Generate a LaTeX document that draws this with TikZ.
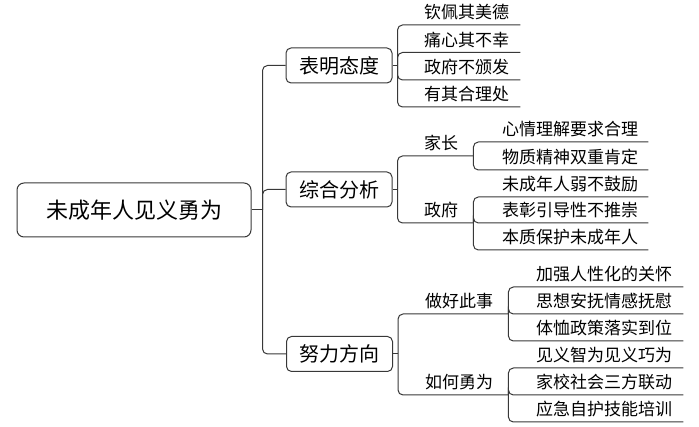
\documentclass[tikz,border=0pt]{standalone}
\usepackage{fontspec}
\setmainfont{Noto Sans CJK SC}

\begin{document}
\begin{tikzpicture}[x=1pt,y=-1pt,
    link/.style={draw=black!78,line width=1pt,rounded corners=5pt},
    rootbox/.style={draw=black!78,line width=1pt,rounded corners=7pt,minimum width=234pt,minimum height=54pt,inner sep=0pt,font=\fontsize{22pt}{22pt}\selectfont},
    topic/.style={draw=black!78,line width=1pt,rounded corners=5pt,minimum width=106pt,minimum height=35pt,inner sep=0pt,font=\fontsize{20pt}{20pt}\selectfont},
    leaf/.style={anchor=south west,inner sep=0pt,text width=#1,align=left,text height=14pt,text depth=6pt,font=\fontsize{17pt}{17pt}\selectfont}]
  \useasboundingbox (0,0) rectangle (699,427);
  \node[rootbox] (root) at (134,210) {未成年人见义勇为};
  \node[topic] (taidu) at (339,65.5) {表明态度};
  \node[topic] (fenxi) at (339,189.5) {综合分析};
  \node[topic] (fangxiang) at (339.5,354) {努力方向};
  \draw[link] (root.east) -- ++(11,0) coordinate (trunk);
  \foreach \t in {taidu,fenxi,fangxiang}
    \draw[link] (trunk) |- (\t.west);

  \draw[link] (taidu.east) -- ++(5,0) coordinate (j-taidu);
  \foreach \y/\txt [count=\i] in {25/钦佩其美德,52.5/痛心其不幸,80/政府不颁发,107/有其合理处}{
    \node[leaf=96pt] (taidu-\i) at (424,\y) {\txt};
    \draw[link] (j-taidu) |- (taidu-\i.south east);
  }

  \draw[link] (fenxi.east) -- ++(5,0) coordinate (j-fenxi);
  \node[leaf=49pt] (jiazhang) at (424,156) {家长};
  \node[leaf=49pt] (zhengfu) at (424,223) {政府};
  \foreach \t in {jiazhang,zhengfu}
    \draw[link] (j-fenxi) |- (\t.south east);
  \foreach \y/\txt [count=\i] in {142/心情理解要求合理,170/物质精神双重肯定}{
    \node[leaf=146pt] (jiazhang-\i) at (502,\y) {\txt};
    \draw[link] (jiazhang.south east) |- (jiazhang-\i.south east);
  }
  \foreach \y/\txt [count=\i] in {197/未成年人弱不鼓励,223/表彰引导性不推崇,250/本质保护未成年人}{
    \node[leaf=146pt] (zhengfu-\i) at (502,\y) {\txt};
    \draw[link] (zhengfu.south east) |- (zhengfu-\i.south east);
  }

  \draw[link] (fangxiang.east) -- ++(5,0) coordinate (j-fangxiang);
  \node[leaf=83pt] (zuohao) at (425,314) {做好此事};
  \node[leaf=83pt] (ruhe) at (425,395) {如何勇为};
  \foreach \t in {zuohao,ruhe}
    \draw[link] (j-fangxiang) |- (\t.south east);
  \foreach \y/\txt [count=\i] in {287/加强人性化的关怀,314/思想安抚情感抚慰,341/体恤政策落实到位}{
    \node[leaf=147pt] (zuohao-\i) at (536,\y) {\txt};
    \draw[link] (zuohao.south east) |- (zuohao-\i.south east);
  }
  \foreach \y/\txt [count=\i] in {368/见义智为见义巧为,395/家校社会三方联动,422/应急自护技能培训}{
    \node[leaf=147pt] (ruhe-\i) at (536,\y) {\txt};
    \draw[link] (ruhe.south east) |- (ruhe-\i.south east);
  }
\end{tikzpicture}
\end{document}
